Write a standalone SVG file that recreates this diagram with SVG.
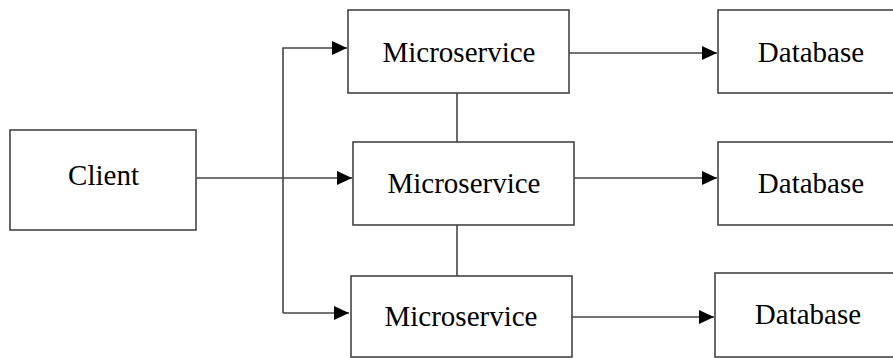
<svg xmlns="http://www.w3.org/2000/svg" width="893" height="358" viewBox="0 0 893 358">
<style>
.box{fill:#fff;stroke:#444;stroke-width:1.6}
.lbl{font-family:"Liberation Serif","Times New Roman",serif;font-size:29px;fill:#000;text-anchor:middle}
.con{fill:none;stroke:#444;stroke-width:1.6}
</style>
<defs>
<marker id="arr" viewBox="0 0 15 14" refX="15" refY="7" markerWidth="15" markerHeight="14" markerUnits="userSpaceOnUse" orient="auto">
<path d="M0,0 L15,7 L0,14 Z" fill="#000"/>
</marker>
</defs>
<g id="connectors">
<path class="con" d="M196,178 H352" marker-end="url(#arr)"/>
<path class="con" d="M283,313 V48 H347" marker-end="url(#arr)"/>
<path class="con" d="M283,313 H349" marker-end="url(#arr)"/>
<path class="con" d="M569,53 H717" marker-end="url(#arr)"/>
<path class="con" d="M574,178 H717" marker-end="url(#arr)"/>
<path class="con" d="M572,317 H714" marker-end="url(#arr)"/>
<path class="con" d="M457,93 V142"/>
<path class="con" d="M457,225 V276"/>
</g>
<g id="client">
<rect class="box" x="10" y="130" width="186" height="100"/>
<text class="lbl" x="103.5" y="185">Client</text>
</g>
<g id="ms1">
<rect class="box" x="348" y="10" width="221" height="83"/>
<text class="lbl" x="459" y="62">Microservice</text>
</g>
<g id="ms2">
<rect class="box" x="353" y="142" width="221" height="83"/>
<text class="lbl" x="464" y="193">Microservice</text>
</g>
<g id="ms3">
<rect class="box" x="351" y="276" width="221" height="81"/>
<text class="lbl" x="461" y="326">Microservice</text>
</g>
<g id="db1">
<rect class="box" x="718" y="10" width="180" height="83"/>
<text class="lbl" x="811" y="62">Database</text>
</g>
<g id="db2">
<rect class="box" x="718" y="142" width="180" height="83"/>
<text class="lbl" x="811" y="193">Database</text>
</g>
<g id="db3">
<rect class="box" x="715" y="273" width="180" height="84"/>
<text class="lbl" x="808" y="324">Database</text>
</g>
</svg>
